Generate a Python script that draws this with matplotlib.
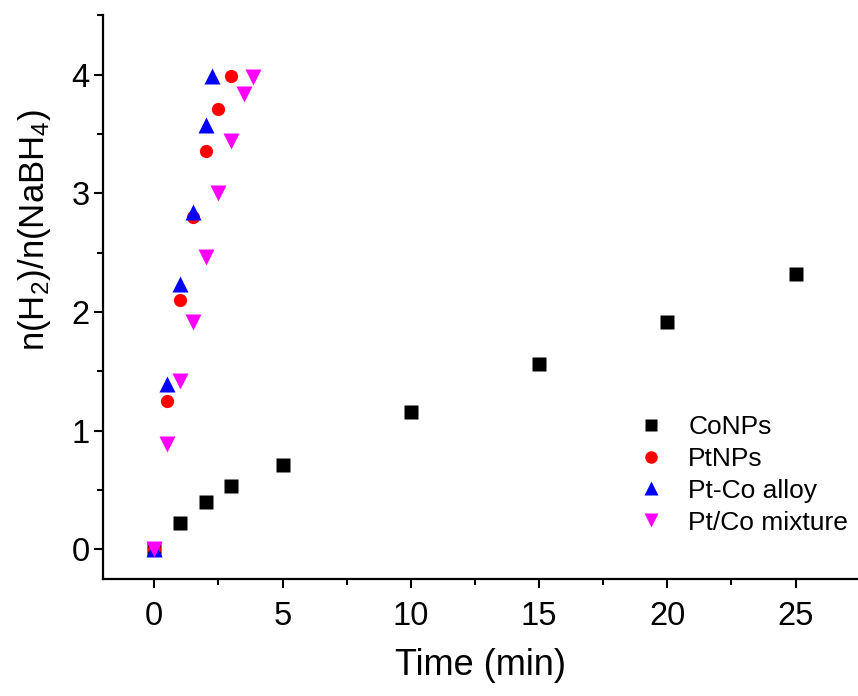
import matplotlib
matplotlib.use('Agg')
import matplotlib.pyplot as plt
import numpy as np

plt.rcParams['font.family'] = ['Liberation Sans', 'DejaVu Sans']
plt.rcParams['mathtext.default'] = 'regular'

# --- Data ---
co_t = [0, 1, 2, 3, 5, 10, 15, 20, 25]
co_n = [0, 0.22, 0.40, 0.53, 0.71, 1.16, 1.56, 1.92, 2.32]

pt_t = [0, 0.5, 1, 1.5, 2, 2.5, 3]
pt_n = [0, 1.25, 2.10, 2.80, 3.36, 3.71, 3.99]

alloy_t = [0, 0.5, 1, 1.5, 2, 2.25]
alloy_n = [0, 1.39, 2.24, 2.84, 3.58, 3.99]

mix_t = [0, 0.5, 1, 1.5, 2, 2.5, 3, 3.5, 3.85]
mix_n = [0, 0.89, 1.42, 1.92, 2.46, 3.0, 3.44, 3.84, 3.98]

x_ticks = [0, 5, 10, 15, 20, 25]
y_ticks = [0, 1, 2, 3, 4]

# --- Plot ---
fig = plt.figure(figsize=(8.58, 6.96), dpi=100)
ax = fig.add_axes([0.120, 0.168, 0.879, 0.810])

ax.plot(co_t, co_n, ls='none', marker='s', ms=9.5, mec='none', color='black', label='CoNPs')
ax.plot(pt_t, pt_n, ls='none', marker='o', ms=9.5, mec='none', color='#ff0000', label='PtNPs')
ax.plot(alloy_t, alloy_n, ls='none', marker='^', ms=11, mec='none', color='#0000ff', label='Pt-Co alloy')
ax.plot(mix_t, mix_n, ls='none', marker='v', ms=11, mec='none', color='#ff00ff', label='Pt/Co mixture')

ax.set_xticks(x_ticks)
ax.set_yticks(y_ticks)
ax.set_xticks(np.arange(2.5, 27, 5), minor=True)
ax.set_yticks(np.arange(0.5, 4.6, 1), minor=True)
ax.set_xlim(-2, 27.4)
ax.set_ylim(-0.25, 4.5)

for side in ['top', 'right']:
    ax.spines[side].set_visible(False)
for side in ['left', 'bottom']:
    ax.spines[side].set_linewidth(1.6)

ax.tick_params(which='major', direction='out', length=6.5, width=1.5, labelsize=23.5)
ax.tick_params(which='minor', direction='out', length=4, width=1.5)
ax.tick_params(axis='x', which='major', pad=9)
ax.tick_params(axis='y', which='major', pad=3)

ax.set_xlabel('Time (min)', fontsize=26, labelpad=12)
ax.set_ylabel('n(H$_2$)/n(NaBH$_4$)', fontsize=25)
ax.yaxis.set_label_coords(-0.066, 0.62)

ax.legend(loc='upper left', bbox_to_anchor=(0.692, 0.31), frameon=False,
          fontsize=19, handletextpad=0.8, labelspacing=0.3,
          handlelength=1.2, markerscale=0.95, borderaxespad=0)

fig.savefig('out.png', dpi=100)
